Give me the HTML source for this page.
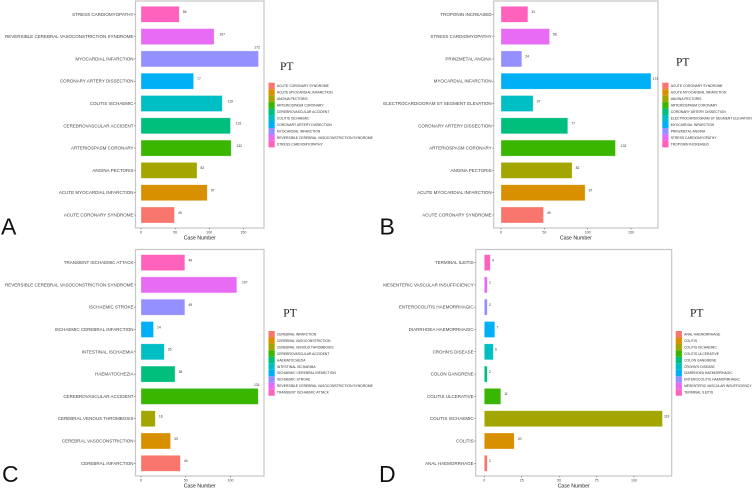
<!DOCTYPE html>
<html>
<head>
<meta charset="utf-8">
<title>Case number by preferred term</title>
<style>
html,body{margin:0;padding:0;background:#fff;width:753px;height:489px;overflow:hidden}
svg{display:block}
text{font-family:"Liberation Sans",sans-serif}
</style>
</head>
<body>
<svg id="figure" xmlns="http://www.w3.org/2000/svg" width="753" height="489" viewBox="0 0 753 489"></svg>
<script>
const categoriesA = ["ACUTE CORONARY SYNDROME","ACUTE MYOCARDIAL INFARCTION","ANGINA PECTORIS","ARTERIOSPASM CORONARY","CEREBROVASCULAR ACCIDENT","COLITIS ISCHAEMIC","CORONARY ARTERY DISSECTION","MYOCARDIAL INFARCTION","REVERSIBLE CEREBRAL VASOCONSTRICTION SYNDROME","STRESS CARDIOMYOPATHY"];
const valuesA = [49,97,82,132,131,119,77,172,107,56];
const ticksA = [0,50,100,150];

const categoriesB = ["ACUTE CORONARY SYNDROME","ACUTE MYOCARDIAL INFARCTION","ANGINA PECTORIS","ARTERIOSPASM CORONARY","CORONARY ARTERY DISSECTION","ELECTROCARDIOGRAM ST SEGMENT ELEVATION","MYOCARDIAL INFARCTION","PRINZMETAL ANGINA","STRESS CARDIOMYOPATHY","TROPONIN INCREASED"];
const valuesB = [49,97,82,132,77,37,173,24,56,31];
const ticksB = [0,50,100,150];

const categoriesC = ["CEREBRAL INFARCTION","CEREBRAL VASOCONSTRICTION","CEREBRAL VENOUS THROMBOSIS","CEREBROVASCULAR ACCIDENT","HAEMATOCHEZIA","INTESTINAL ISCHAEMIA","ISCHAEMIC CEREBRAL INFARCTION","ISCHAEMIC STROKE","REVERSIBLE CEREBRAL VASOCONSTRICTION SYNDROME","TRANSIENT ISCHAEMIC ATTACK"];
const valuesC = [44,33,16,131,38,26,14,49,107,49];
const ticksC = [0,50,100];

const categoriesD = ["ANAL HAEMORRHAGE","COLITIS","COLITIS ISCHAEMIC","COLITIS ULCERATIVE","COLON GANGRENE","CROHN'S DISEASE","DIARRHOEA HAEMORRHAGIC","ENTEROCOLITIS HAEMORRHAGIC","MESENTERIC VASCULAR INSUFFICIENCY","TERMINAL ILEITIS"];
const valuesD = [2,20,119,11,2,6,7,2,2,4];
const ticksD = [0,25,50,75,100];

const palette = ["#F8766D","#D89000","#A3A500","#39B600","#00BF7D","#00BFC4","#00B0F6","#9590FF","#E76BF3","#FF62BC"];

const panels = [
  {id:"a",letter:"A",letterX:1,letterY:234.5,cats:categoriesA,vals:valuesA,ticks:ticksA,left:135.5,right:264,top:1,bottom:228,x0:141,pxPerUnit:0.683,firstY:215,keyX:268.5,keyY:82.7,titleX:280,titleY:70,liftMax:true},
  {id:"b",letter:"B",letterX:379.5,letterY:234.5,cats:categoriesB,vals:valuesB,ticks:ticksB,left:493.7,right:658,top:1,bottom:228,x0:501,pxPerUnit:0.867,firstY:215,keyX:662.3,keyY:82.7,titleX:676,titleY:65.7,liftMax:false},
  {id:"c",letter:"C",letterX:2,letterY:482,cats:categoriesC,vals:valuesC,ticks:ticksC,left:135.5,right:264,top:249.5,bottom:476,x0:141,pxPerUnit:0.895,firstY:463.3,keyX:268.5,keyY:331,titleX:283.3,titleY:316.7,liftMax:true},
  {id:"d",letter:"D",letterX:379,letterY:482,cats:categoriesD,vals:valuesD,ticks:ticksD,left:475.7,right:671.7,top:249.5,bottom:476,x0:484.3,pxPerUnit:1.497,firstY:463.3,keyX:675.7,keyY:331,titleX:690,titleY:316.7,liftMax:false}
];

const svgNS = "http://www.w3.org/2000/svg";
const root = document.getElementById("figure");

function make(tag, parent, props, content) {
  const el = document.createElementNS(svgNS, tag);
  for (const k in props) el.setAttribute(k, props[k]);
  if (content !== undefined) el.textContent = content;
  parent.appendChild(el);
  return el;
}

function drawPanel(p) {
  const xScale = v => p.x0 + v * p.pxPerUnit;
  const yBand = i => p.firstY - i * 22.3;
  const maxVal = Math.max.apply(null, p.vals);

  const g = make("g", root, {});
  
  

  const letter = make("text", g, {x:p.letterX, y:p.letterY, "font-size":23, fill:"#111"}, p.letter);
  
  

  const frame = make("rect", g, {x:p.left, y:p.top, width:p.right-p.left, height:p.bottom-p.top, fill:"#fff", stroke:"#c6c6c6", "stroke-width":1.2});
  
  

  p.vals.forEach(function (v, i) {
    const cy = yBand(i);
    const end = xScale(v);

    const bar = make("rect", g, {x:p.x0, y:cy-8, width:end-p.x0, height:16, fill:palette[i], stroke:"#fff", "stroke-opacity":0.5, "stroke-width":0.6});
    
    

    const tick = make("line", g, {x1:p.left-1.5, x2:p.left, y1:cy, y2:cy, stroke:"#555", "stroke-width":0.5});
    
    

    const cat = make("text", g, {x:p.left-2, y:cy+1.5, "text-anchor":"end", "font-size":4.5, fill:"#444"}, p.cats[i]);
    
    

    const digits = String(v).length;
    let lx = end + digits * 1.75;
    let ly = cy - 1.2;
    if (v === maxVal && p.liftMax) { lx = end - 4.2; ly = cy - 10.4; }
    else if (v === maxVal) { lx = end + 1.6; }
    const valueLabel = make("text", g, {x:lx, y:ly, "font-size":3.4, fill:"#333"}, String(v));
    
    

    const keyY = p.keyY + i * 6.47;
    const key = make("rect", g, {x:p.keyX, y:keyY, width:6.2, height:6.47, fill:palette[i]});
    
    

    const keyLabel = make("text", g, {x:p.keyX+8.4, y:keyY+4.4, "font-size":3.36, fill:"#333"}, p.cats[i]);
    
    
  });

  p.ticks.forEach(function (t) {
    const tx = xScale(t);
    const tick = make("line", g, {x1:tx, x2:tx, y1:p.bottom, y2:p.bottom+1.5, stroke:"#555", "stroke-width":0.5});
    
    

    const label = make("text", g, {x:tx, y:p.bottom+5.6, "text-anchor":"middle", "font-size":3.6, fill:"#444"}, String(t));
    
    
  });

  const axisTitle = make("text", g, {x:(p.left+p.right)/2, y:p.bottom+11.6, "text-anchor":"middle", "font-size":5.2, fill:"#222"}, "Case Number");
  
  

  const legendTitle = make("text", g, {x:p.titleX, y:p.titleY, "font-size":11.5, fill:"#222", style:'font-family:"Liberation Serif",serif'}, "PT");
  
  
}

panels.forEach(drawPanel);
</script>
</body>
</html>
